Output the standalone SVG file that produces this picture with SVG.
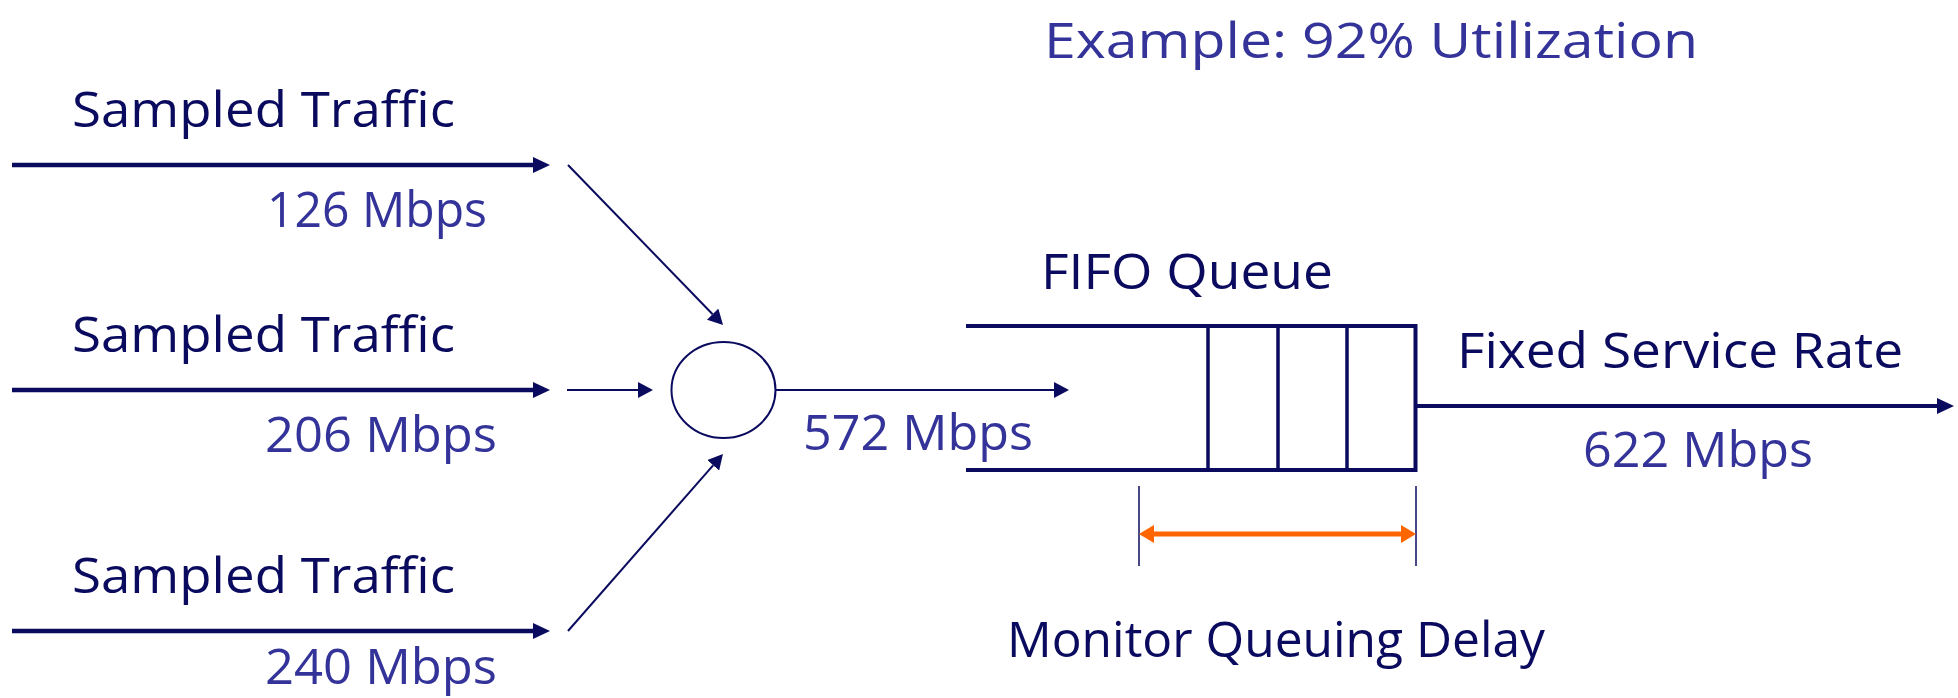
<svg xmlns="http://www.w3.org/2000/svg" width="1958" height="698" viewBox="0 0 1958 698">
  <style>
    .t { font-family: "Open Sans", "Noto Sans", "DejaVu Sans", sans-serif; font-size: 50px; font-weight: 500; }
    .dark { fill: #0a0a5e; }
    .blue { fill: #333399; }
    .ln { stroke: #0a0a5e; fill: none; }
    .thick { stroke-width: 4.5; }
    .thin { stroke-width: 2; }
  </style>
  <defs>
    <marker id="ahBig" markerUnits="userSpaceOnUse" markerWidth="18" markerHeight="16" refX="0" refY="8" orient="auto">
      <path d="M0,0 L17,8 L0,16 z" fill="#0a0a5e"/>
    </marker>
    <marker id="ahSmall" markerUnits="userSpaceOnUse" markerWidth="16" markerHeight="16" refX="0" refY="8" orient="auto">
      <path d="M0,0 L15,8 L0,16 z" fill="#0a0a5e"/>
    </marker>
    <marker id="ahOrange" markerUnits="userSpaceOnUse" markerWidth="16" markerHeight="18" refX="0" refY="9" orient="auto-start-reverse">
      <path d="M0,0 L15,9 L0,18 z" fill="#ff6600"/>
    </marker>
  </defs>

  <g id="title">
    <text class="t blue" x="1044" y="58" font-size="63" textLength="654" lengthAdjust="spacingAndGlyphs">Example: 92% Utilization</text>
  </g>

  <g id="source1">
    <text class="t dark" x="72" y="127" textLength="383" lengthAdjust="spacingAndGlyphs">Sampled Traffic</text>
    <text class="t blue" x="267" y="227" font-size="52" textLength="220" lengthAdjust="spacingAndGlyphs">126 Mbps</text>
  </g>
  <g id="source2">
    <text class="t dark" x="72" y="352" textLength="383" lengthAdjust="spacingAndGlyphs">Sampled Traffic</text>
    <text class="t blue" x="265" y="452" font-size="52" textLength="232" lengthAdjust="spacingAndGlyphs">206 Mbps</text>
  </g>
  <g id="source3">
    <text class="t dark" x="72" y="593" textLength="383" lengthAdjust="spacingAndGlyphs">Sampled Traffic</text>
    <text class="t blue" x="265" y="684" font-size="52" textLength="232" lengthAdjust="spacingAndGlyphs">240 Mbps</text>
  </g>

  <g id="mux">
    <ellipse cx="723.5" cy="390" rx="52" ry="48" fill="none" stroke="#0a0a5e" stroke-width="2"/>
  </g>

  <g id="aggregate-label">
    <text class="t blue" x="803" y="450" font-size="52" textLength="230" lengthAdjust="spacingAndGlyphs">572 Mbps</text>
  </g>

  <g id="fifo-queue">
    <text class="t dark" x="1041" y="289" textLength="292" lengthAdjust="spacingAndGlyphs">FIFO Queue</text>
    <line class="ln" x1="966" y1="326" x2="1417" y2="326" stroke-width="4"/>
    <line class="ln" x1="966" y1="470" x2="1417" y2="470" stroke-width="4"/>
    <line class="ln" x1="1208" y1="326" x2="1208" y2="470" stroke-width="3.5"/>
    <line class="ln" x1="1278" y1="326" x2="1278" y2="470" stroke-width="3.5"/>
    <line class="ln" x1="1347" y1="326" x2="1347" y2="470" stroke-width="3.5"/>
    <line class="ln" x1="1415.5" y1="324" x2="1415.5" y2="472" stroke-width="4"/>
  </g>

  <g id="service">
    <text class="t dark" x="1457" y="368" textLength="446" lengthAdjust="spacingAndGlyphs">Fixed Service Rate</text>
    <text class="t blue" x="1583" y="467" font-size="52" textLength="230" lengthAdjust="spacingAndGlyphs">622 Mbps</text>
  </g>

  <g id="delay">
    <line class="ln" x1="1139" y1="486" x2="1139" y2="566" stroke-width="1.5"/>
    <line class="ln" x1="1416" y1="486" x2="1416" y2="566" stroke-width="1.5"/>
    <text class="t dark" x="1007" y="657" textLength="538" lengthAdjust="spacingAndGlyphs">Monitor Queuing Delay</text>
  </g>

  <g id="connectors">
    <line class="ln thick" x1="12" y1="165" x2="533" y2="165" marker-end="url(#ahBig)"/>
    <line class="ln thick" x1="12" y1="390" x2="533" y2="390" marker-end="url(#ahBig)"/>
    <line class="ln thick" x1="12" y1="631" x2="533" y2="631" marker-end="url(#ahBig)"/>
    <line class="ln thin" x1="568" y1="165" x2="712.6" y2="314.2" marker-end="url(#ahSmall)"/>
    <line class="ln thin" x1="567" y1="390" x2="638" y2="390" marker-end="url(#ahSmall)"/>
    <line class="ln thin" x1="568" y1="631" x2="713.1" y2="465.3" marker-end="url(#ahSmall)"/>
    <line class="ln thin" x1="775.5" y1="390" x2="1054" y2="390" marker-end="url(#ahSmall)"/>
    <line class="ln" x1="1417" y1="406" x2="1937" y2="406" stroke-width="4" marker-end="url(#ahBig)"/>
    <line x1="1154" y1="534" x2="1401" y2="534" stroke="#ff6600" stroke-width="5" marker-start="url(#ahOrange)" marker-end="url(#ahOrange)"/>
  </g>
</svg>
